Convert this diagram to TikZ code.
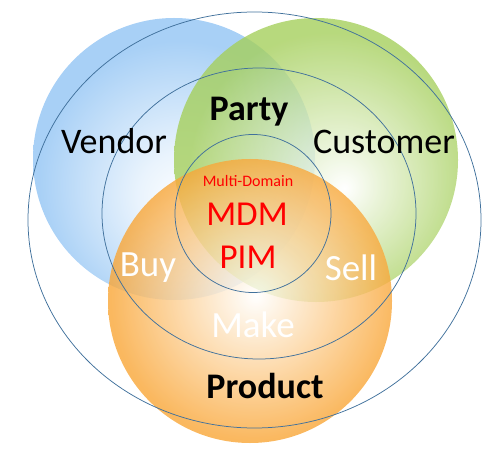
\documentclass[tikz,border=0pt]{standalone}
\usepackage{fontspec}
\setmainfont{Carlito}
\definecolor{vendorblue}{HTML}{A8D0F6}
\definecolor{custgreen}{HTML}{A5CF5C}
\definecolor{prodorange}{HTML}{F9A637}
\definecolor{ringblue}{HTML}{41719C}
\definecolor{mdmred}{HTML}{FF0000}
\pgfdeclareradialshading{vendorball}{\pgfpoint{2bp}{-8bp}}{color(0bp)=(white);
  color(8bp)=(white!75!vendorblue); color(25bp)=(vendorblue); color(50bp)=(vendorblue)}
\pgfdeclareradialshading{custball}{\pgfpoint{5bp}{-5bp}}{color(0bp)=(white);
  color(7bp)=(white!70!custgreen); color(25bp)=(custgreen); color(50bp)=(custgreen)}
\pgfdeclareradialshading{prodball}{\pgfpoint{1bp}{1bp}}{color(0bp)=(white);
  color(5bp)=(white!80!prodorange); color(25bp)=(prodorange); color(50bp)=(prodorange)}
\tikzset{
    every node/.style={inner sep=0pt, anchor=base,
    	font=\fontsize{36}{36}\selectfont}
}
\tikzset{
    ring/.style={draw=ringblue, line width=0.75pt}
}
\tikzset{
    bold/.style={font=\fontsize{36}{36}\selectfont\bfseries},
    white/.style={text=white, font=\fontsize{37}{37}\selectfont},
    red/.style={text=mdmred, font=\fontsize{35}{35}\selectfont}
}

\begin{document}
\begin{tikzpicture}[x=1pt, y=-1pt]
  \useasboundingbox (0, 0) rectangle (502, 462);

  % the three domains
  \shade [shading=vendorball] (174, 159) circle (141);
  \shade [shading=custball, fill opacity=.8] (316, 160) circle (142);
  \shade [shading=prodball, fill opacity=.8] (250, 301) circle (142);

  % rings
  \draw [ring] (254.5, 220) ellipse (226.5 and 208);
  \draw [ring] (259, 213.5) ellipse (157 and 145.5);
  \draw [ring] (253, 213.5) ellipse (78 and 79);

  \node (vendor) at (114, 154) {Vendor};
  \node (customer) at (384, 154) {Customer};
  \node (party) [bold] at (249, 121) {Party};
  \node (product) [bold] at (265, 398) {Product};

  \node (buy) [white] at (148, 276) {Buy};
  \node (sell) [white] at (351, 280) {Sell};
  \node (make) [white] at (253, 337) {Make};

  \node (multi) [red, font=\fontsize{16}{16}\selectfont] at (248, 186) {Multi-Domain};
  \node (mdm) [red] at (247, 225) {MDM};
  \node (pim) [red] at (248, 268) {PIM};
\end{tikzpicture}
\end{document}
